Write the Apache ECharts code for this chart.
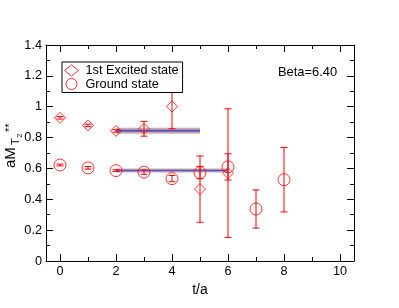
<!DOCTYPE html>
<html><head><meta charset="utf-8">
<script src="https://cdn.jsdelivr.net/npm/echarts@6/dist/echarts.min.js"></script>
<style>html,body{margin:0;padding:0;background:#fff}#c{width:399px;height:308px}</style>
</head><body><div id="c"></div>
<script>
// ---- data ----
var tExcited = [0, 1, 2, 3, 4, 5, 6];
var excitedY = [0.928, 0.879, 0.843, 0.857, 1.002, 0.466, 0.570];
var excitedErr = [0.008, 0.008, 0.008, 0.048, 0.145, 0.215, 0.417];
var tGround = [0, 1, 2, 3, 4, 5, 6, 7, 8];
var groundY = [0.622, 0.604, 0.586, 0.576, 0.534, 0.573, 0.610, 0.337, 0.527];
var groundErr = [0.006, 0.008, 0.006, 0.014, 0.020, 0.040, 0.085, 0.124, 0.209];
var excitedFitT = [2, 5];
var excitedFitY = 0.845;
var groundFitT = [2, 6];
var groundFitY = 0.587;
var xMajorTicks = [0, 2, 4, 6, 8, 10];
var xMinorTicks = [1, 3, 5, 7, 9];
var seriesNames = ['1st Excited state', 'Ground state'];
var betaLabel = 'Beta=6.40';

var RED = '#ff0000';
var FONT = 'Liberation Sans, Arial, sans-serif';

function pts(t, y) { return t.map(function (v, i) { return [v, y[i]]; }); }
function errData(t, y, e) { return t.map(function (v, i) { return [v, y[i] - e[i], y[i] + e[i]]; }); }

function errRender(params, api) {
  var x = api.value(0);
  var lo = api.coord([x, api.value(1)]);
  var hi = api.coord([x, api.value(2)]);
  var w = 3.5;
  var st = { stroke: RED, lineWidth: 1, fill: null };
  return {
    type: 'group',
    children: [
      { type: 'line', shape: { x1: lo[0], y1: lo[1], x2: hi[0], y2: hi[1] }, style: st },
      { type: 'line', shape: { x1: lo[0] - w, y1: lo[1], x2: lo[0] + w, y2: lo[1] }, style: st },
      { type: 'line', shape: { x1: hi[0] - w, y1: hi[1], x2: hi[0] + w, y2: hi[1] }, style: st }
    ]
  };
}

function fitLine(t, y, width, color, z) {
  return {
    type: 'line', xAxisIndex: 0, yAxisIndex: 0, data: t.map(function (v) { return [v, y]; }),
    symbol: 'none', silent: true, z: z,
    lineStyle: { width: width, color: color }
  };
}

var baseX = { type: 'value', min: -0.5, max: 10.5, splitLine: { show: false } };
function xa(pos, ticks, len, labels, line) {
  return Object.assign({}, baseX, {
    position: pos,
    axisLine: { show: line, onZero: false, lineStyle: { color: '#000', width: 1 } },
    axisTick: { show: true, inside: true, length: len, customValues: ticks, lineStyle: { color: '#000' } },
    axisLabel: labels ? { show: true, customValues: ticks, color: '#000', fontSize: 12.7, fontFamily: FONT, margin: 4 } : { show: false },
    minorTick: { show: false }
  });
}
var xAxes = [
  xa('bottom', xMajorTicks, 7, true, true),
  xa('bottom', xMinorTicks, 4, false, false),
  xa('top', xMajorTicks, 7, false, true),
  xa('top', xMinorTicks, 4, false, false)
];
xAxes[0].name = 't/a';
xAxes[0].nameLocation = 'middle';
xAxes[0].nameGap = 21;
xAxes[0].nameTextStyle = { color: '#000', fontSize: 14, fontFamily: FONT };

function ya(pos, labels) {
  return {
    type: 'value', min: 0, max: 1.4, interval: 0.2, position: pos,
    splitLine: { show: false },
    axisLine: { show: true, onZero: false, lineStyle: { color: '#000', width: 1 } },
    axisTick: { show: true, inside: true, length: 7, lineStyle: { color: '#000' } },
    minorTick: { show: true, splitNumber: 2, length: 4, lineStyle: { color: '#000' } },
    axisLabel: labels ? { show: true, color: '#000', fontSize: 12.7, fontFamily: FONT, margin: 4 } : { show: false }
  };
}

var chart = echarts.init(document.getElementById('c'), null, { renderer: 'canvas' });
chart.setOption({
  animation: false,
  backgroundColor: '#fff',
  grid: { left: 46, right: 45, top: 45, bottom: 47, containLabel: false },
  xAxis: xAxes,
  yAxis: [ya('left', true), ya('right', false)],
  legend: {
    data: seriesNames,
    orient: 'vertical', left: 62, top: 62,
    backgroundColor: '#fff', borderColor: '#000', borderWidth: 1, borderRadius: 0,
    padding: [2, 4, 2, 2], itemGap: 0.5, itemWidth: 14, itemHeight: 11,
    itemStyle: { borderWidth: 1 },
    textStyle: { color: '#000', fontSize: 12.7, fontFamily: FONT, lineHeight: 12.5, padding: [0, 0, 0, 2] }
  },
  graphic: [
    { type: 'text', left: 278, top: 66, style: { text: betaLabel, fill: '#000', font: '12.9px ' + FONT } },
    {
      type: 'group', x: 11, y: 168, rotation: Math.PI / 2,
      children: [
        { type: 'text', x: 0, y: 0, style: { text: 'aM', fill: '#000', font: '15px ' + FONT, verticalAlign: 'middle' } },
        { type: 'text', x: 23, y: 5, style: { text: 'T', fill: '#000', font: '11px ' + FONT, verticalAlign: 'middle' } },
        { type: 'text', x: 30, y: 9, style: { text: '2', fill: '#000', font: '8px ' + FONT, verticalAlign: 'middle' } },
        { type: 'text', x: 36, y: -1, style: { text: '**', fill: '#000', font: '11px ' + FONT, verticalAlign: 'middle' } }
      ]
    }
  ],
  series: [
    fitLine(excitedFitT, excitedFitY, 6, 'rgba(160,120,120,0.6)', 1),
    fitLine(excitedFitT, excitedFitY, 2, '#5a4fc8', 2),
    fitLine(groundFitT, groundFitY, 4, 'rgba(160,120,120,0.6)', 1),
    fitLine(groundFitT, groundFitY, 1.6, '#5a4fc8', 2),
    { type: 'custom', renderItem: errRender, data: errData(tExcited, excitedY, excitedErr), z: 3, silent: true },
    { type: 'custom', renderItem: errRender, data: errData(tGround, groundY, groundErr), z: 3, silent: true },
    {
      name: seriesNames[0], type: 'scatter', data: pts(tExcited, excitedY), symbol: 'diamond', symbolSize: 11, z: 4,
      itemStyle: { color: 'rgba(255,255,255,0)', borderColor: RED, borderWidth: 1 }
    },
    {
      name: seriesNames[1], type: 'scatter', data: pts(tGround, groundY), symbol: 'circle', symbolSize: 12, z: 4,
      itemStyle: { color: 'rgba(255,255,255,0)', borderColor: RED, borderWidth: 1 }
    }
  ]
});
</script></body></html>
